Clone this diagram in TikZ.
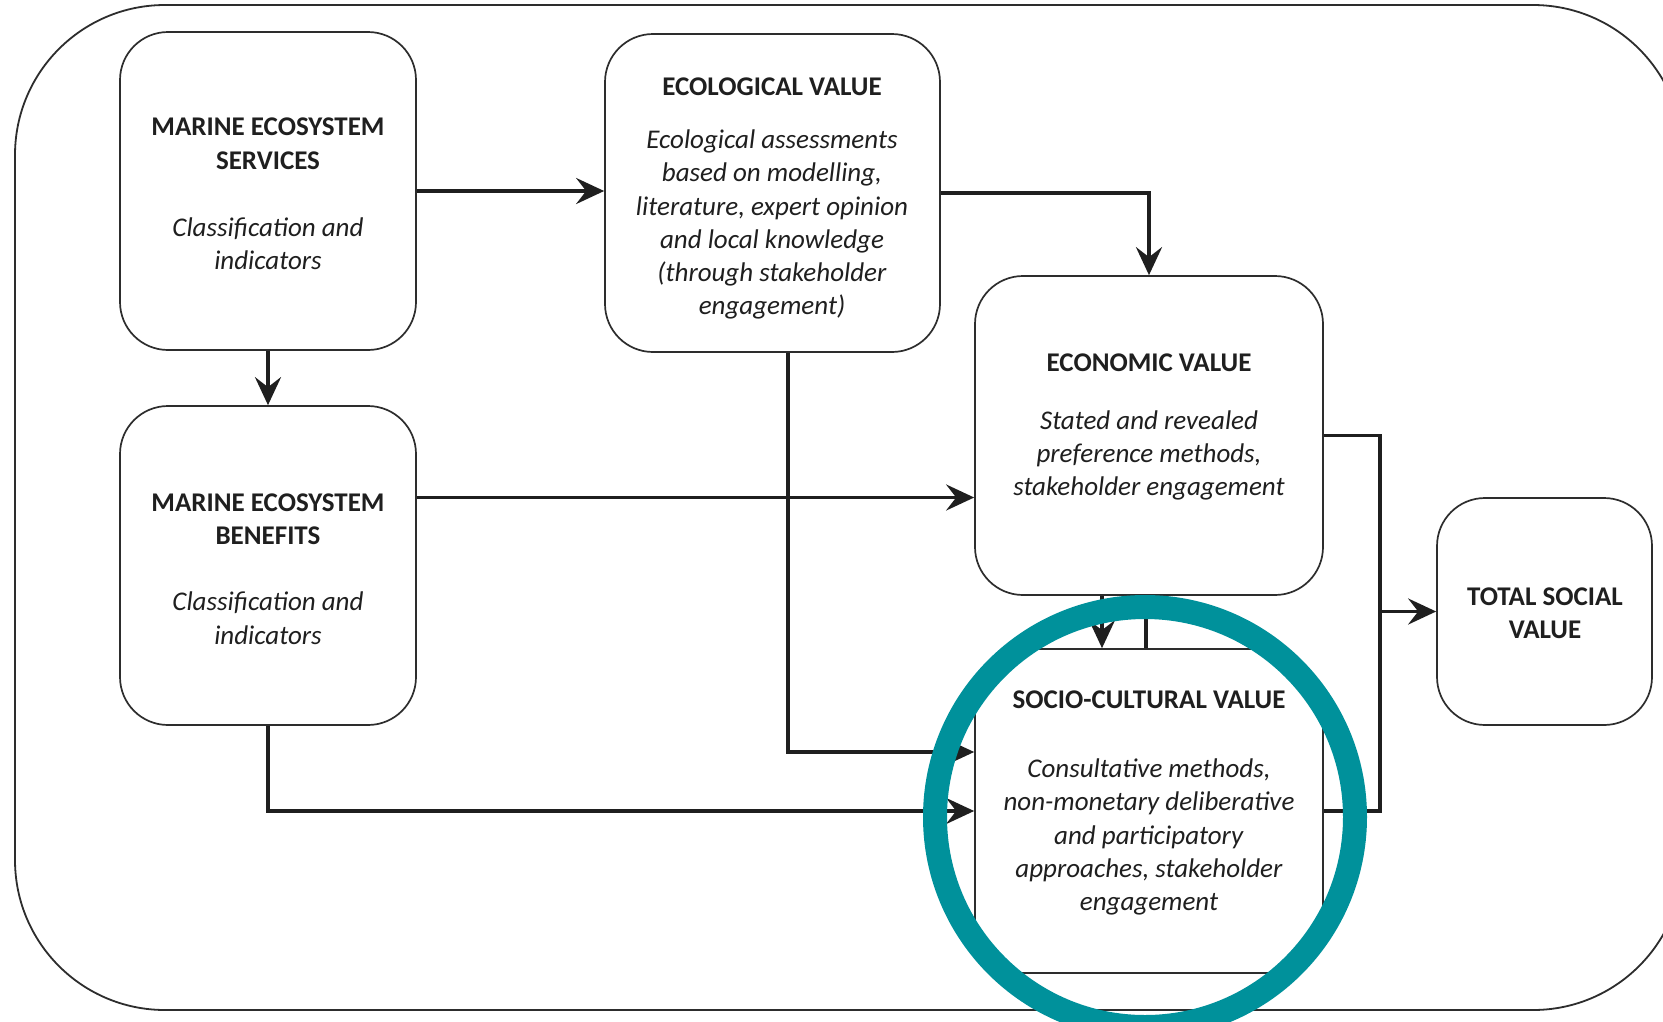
\documentclass[tikz,border=0pt]{standalone}
\usepackage{fontspec}
\setmainfont{Carlito}
\usetikzlibrary{arrows.meta,calc}
\definecolor{ringteal}{RGB}{0,145,155}
\definecolor{edgegrey}{RGB}{45,45,45}
\begin{document}
\begin{tikzpicture}[x=1pt,y=-1pt,
  box/.style={draw=edgegrey,line width=1.7pt,rounded corners=48pt,fill=white,inner sep=0pt},
  txt/.style={align=center,font=\fontsize{27}{33.2}\selectfont,text=black!88,inner sep=0pt},
  conn/.style={draw=black!88,line width=3.8pt,-{Stealth[length=28pt,width=26pt,inset=10pt]}},
  plain/.style={draw=black!88,line width=3.8pt},
  outerbox/.style={draw=edgegrey,line width=1.8pt,rounded corners=150pt},
  ring/.style={draw=ringteal,line width=24pt}]
\useasboundingbox (0,0) rectangle (1663,1021);
\clip (0,0) rectangle (1663,1021);
\fill[white] (0,0) rectangle (1663,1021);
\draw[outerbox] (15,5) rectangle (1683,1010);

% boxes
\node[box,minimum width=296pt,minimum height=318pt] (mes) at (268,191) {};
\node[box,minimum width=296pt,minimum height=319pt] (meb) at (268,565.5) {};
\node[box,minimum width=335pt,minimum height=318pt] (eco) at (772.5,193) {};
\node[box,minimum width=348pt,minimum height=319pt] (econ) at (1149,435.5) {};
\begin{scope}
  \clip (1145,817) circle[radius=200];
  \node[box,rounded corners=0pt,minimum width=348pt,minimum height=324pt] (socio) at (1149,811) {};
\end{scope}
\node[box,minimum width=215pt,minimum height=227pt] (total) at (1544.5,611.5) {};

% texts
\node[txt] (mes-t) at (268,194) {\textbf{MARINE ECOSYSTEM}\\\textbf{SERVICES}\\[34pt]\textit{Classification and}\\\textit{indicators}};
\node[txt] (meb-t) at (268,569) {\textbf{MARINE ECOSYSTEM}\\\textbf{BENEFITS}\\[33pt]\textit{Classification and}\\\textit{indicators}};
\node[txt] (eco-t) at (772,198.5) {\textbf{ECOLOGICAL VALUE}\\[20pt]\textit{Ecological assessments}\\\textit{based on modelling,}\\\textit{literature, expert opinion}\\\textit{and local knowledge}\\\textit{(through stakeholder}\\\textit{engagement)}};
\node[txt] (econ-t) at (1149,427) {\textbf{ECONOMIC VALUE}\\[25pt]\textit{Stated and revealed}\\\textit{preference methods,}\\\textit{stakeholder engagement}};
\node[txt] (socio-t) at (1149,803) {\textbf{SOCIO-CULTURAL VALUE}\\[36pt]\textit{Consultative methods,}\\\textit{non-monetary deliberative}\\\textit{and participatory}\\\textit{approaches, stakeholder}\\\textit{engagement}};
\node[txt] (total-t) at (1545,613) {\textbf{TOTAL SOCIAL}\\\textbf{VALUE}};

% connectors
\coordinate (bus) at (1380,611.5);
\draw[conn] (mes.east) -- (mes.east -| eco.west);
\draw[conn] (mes.south) -- (meb.north);
\draw[conn] (eco.east) -| (econ.north);
\draw[conn] ([yshift=68pt]meb.east) -- ([yshift=68pt]meb.east -| econ.west);
\draw[conn] ([xshift=15.5pt]eco.south) |- ([yshift=59pt]socio.west);
\draw[conn] (meb.south) |- (socio.west);
\draw[conn] ([xshift=-47pt]econ.south) -- ([xshift=-47pt]socio.north);
\draw[plain] ([xshift=-3pt]econ.south) -- ([xshift=-3pt]socio.north);
\draw[plain] (econ.east) -| (bus) |- (socio.east);
\draw[conn] (bus) -- (total.west);

% highlight ring
\draw[ring] (1145,817) circle[radius=210];
\end{tikzpicture}
\end{document}
